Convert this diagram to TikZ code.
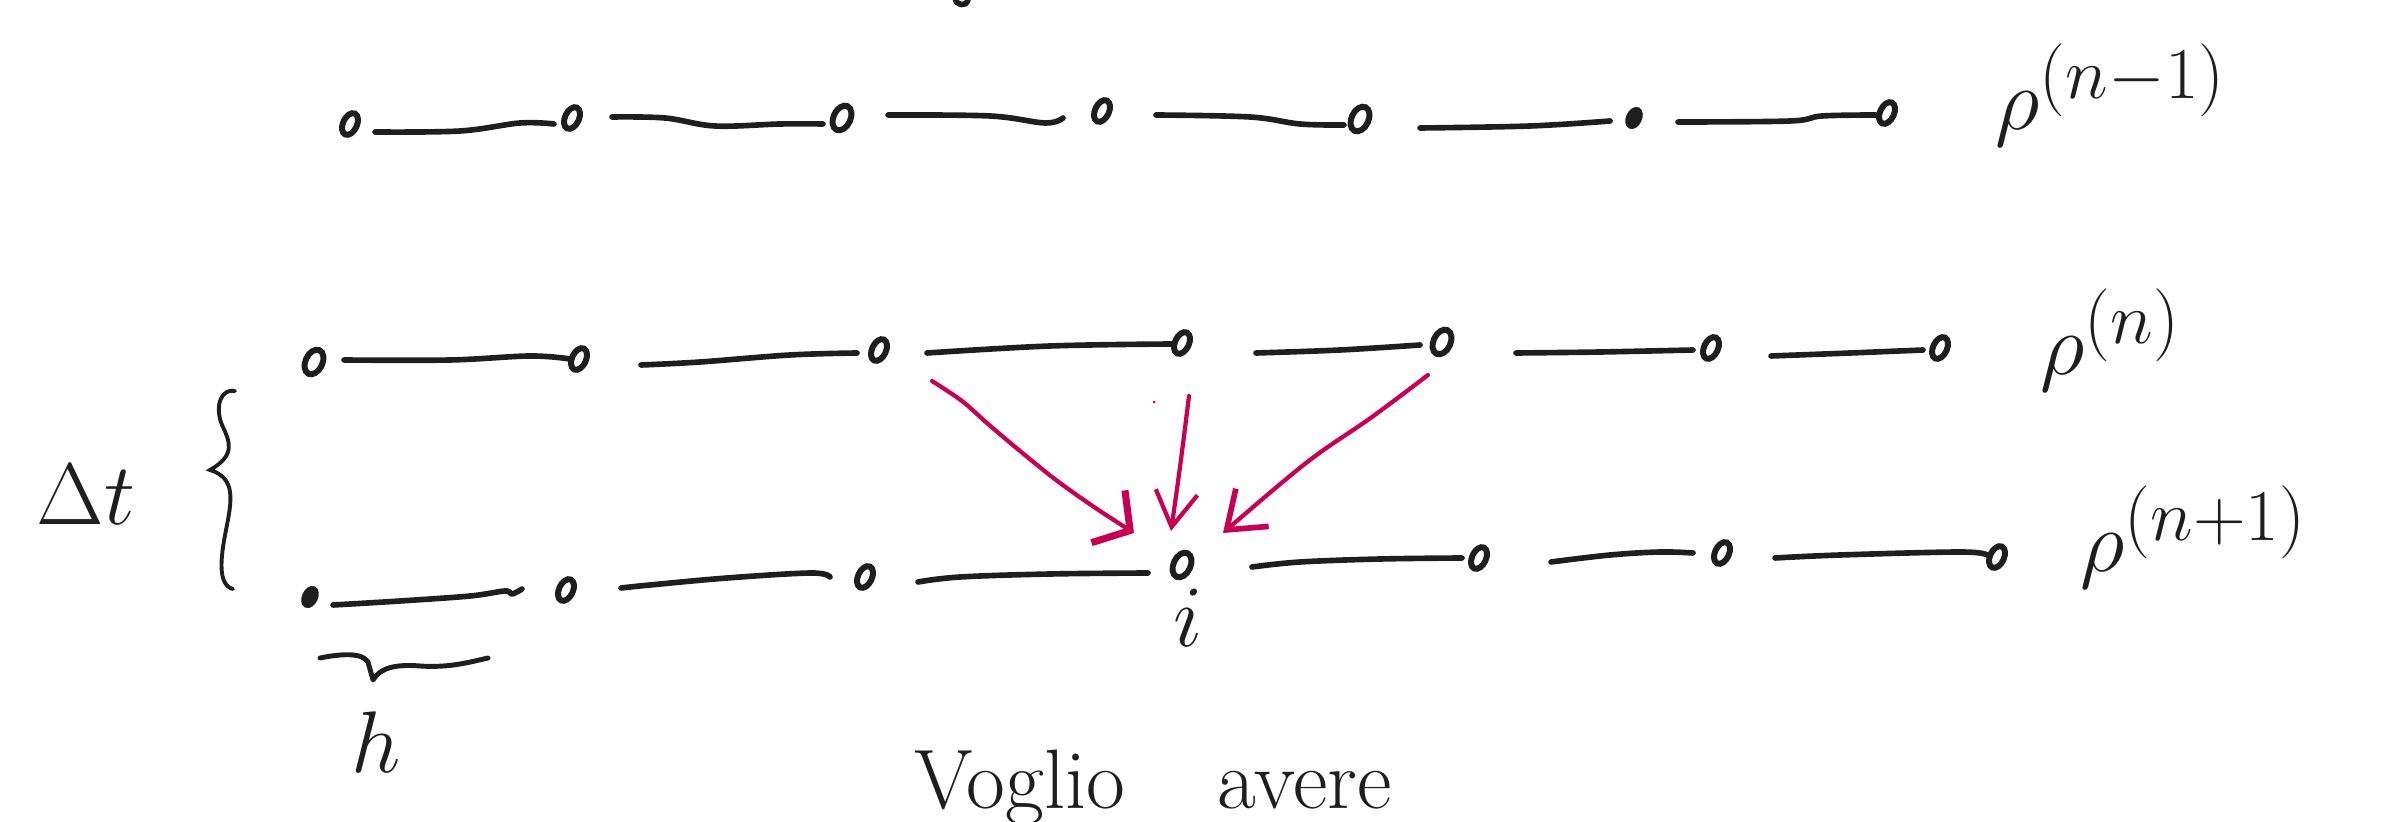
\documentclass[tikz,border=0pt]{standalone}
\usetikzlibrary{shapes.geometric,arrows.meta,calc}
\definecolor{inkred}{RGB}{199,0,83}
\definecolor{ink}{RGB}{30,30,30}
\begin{document}
\begin{tikzpicture}[x=0.01cm,y=-0.01cm,
  pt/.style={ellipse,draw=ink,line width=1.7pt,inner sep=0pt,minimum width=0.14cm,minimum height=0.23cm,rotate=-25},
  ptbig/.style={pt,minimum width=0.17cm,minimum height=0.26cm},
  dot/.style={pt,fill=ink,minimum width=0.10cm,minimum height=0.17cm},
  seg/.style={draw=ink,line width=1.6pt,line cap=round,line join=round},
  arr/.style={draw=inkred,line width=1.2pt,line cap=round,line join=round},
  lbl/.style={inner sep=0pt,anchor=base west,text=ink,font=\fontsize{28}{30}\selectfont},
  hand/.style={inner sep=0pt,anchor=base,text=ink}
]
\useasboundingbox (0,0) rectangle (2391,822);

% row n-1
\node[pt] (a1) at (350,124) {};
\node[pt] (a2) at (572,118) {};
\node[ptbig] (a3) at (842,118) {};
\node[pt] (a4) at (1102,111) {};
\node[ptbig] (a5) at (1360,119) {};
\node[dot] (a6) at (1634,118) {};
\node[pt] (a7) at (1887,113) {};
% row n
\node[ptbig] (b1) at (314,362) {};
\node[pt] (b2) at (579,359) {};
\node[pt] (b3) at (879,350) {};
\node[pt] (b4) at (1182,343) {};
\node[ptbig] (b5) at (1442,342) {};
\node[pt] (b6) at (1711,348) {};
\node[pt] (b7) at (1940,348) {};
% row n+1
\node[dot] (c1) at (310,597) {};
\node[pt] (c2) at (566,590) {};
\node[pt] (c3) at (865,577) {};
\node[ptbig] (c4) at (1182,565) {};
\node[pt] (c5) at (1479,558) {};
\node[pt] (c6) at (1722,553) {};
\node[pt] (c7) at (1997,557) {};

% segments row n-1
\draw[seg] plot[smooth,tension=0.6] coordinates {($(a1)+(25,8)$) (460,131) (520,123) ($(a2)+(-18,6)$)};
\draw[seg] plot[smooth,tension=0.6] coordinates {($(a2)+(40,-1)$) (665,118) (715,126) (780,124) ($(a3)+(-19,6)$)};
\draw[seg] plot[smooth,tension=0.6] coordinates {($(a3)+(46,-3)$) (990,116) (1045,123) ($(a4)+(-39,7)$)};
\draw[seg] plot[smooth,tension=0.6] coordinates {($(a4)+(54,4)$) (1250,117) (1300,124) ($(a5)+(-16,6)$)};
\draw[seg] plot[smooth,tension=0.6] coordinates {($(a5)+(60,9)$) (1530,126) ($(a6)+(-24,3)$)};
\draw[seg] plot[smooth,tension=0.6] coordinates {($(a6)+(44,4)$) (1790,121) (1822,116) ($(a7)+(-11,2)$)};
% segments row n
\draw[seg] plot[smooth,tension=0.6] coordinates {($(b1)+(30,-2)$) (450,360) (530,356) ($(b2)+(-9,0)$)};
\draw[seg] plot[smooth,tension=0.6] coordinates {($(b2)+(62,6)$) (700,362) (790,355) ($(b3)+(-22,3)$)};
\draw[seg] plot[smooth,tension=0.6] coordinates {($(b3)+(48,3)$) (1050,346) ($(b4)+(-10,1)$)};
\draw[seg] plot[smooth,tension=0.6] coordinates {($(b4)+(74,10)$) (1340,350) ($(b5)+(-22,3)$)};
\draw[seg] plot[smooth,tension=0.6] coordinates {($(b5)+(74,11)$) (1600,352) ($(b6)+(-18,2)$)};
\draw[seg] plot[smooth,tension=0.6] coordinates {($(b6)+(60,8)$) (1850,353) ($(b7)+(-17,2)$)};
% segments row n+1
\draw[seg] plot[smooth,tension=0.6] coordinates {($(c1)+(23,8)$) (400,601) (470,596) (505,591) (512,594) ($(c2)+(-44,-1)$)};
\draw[seg] plot[smooth,tension=0.6] coordinates {($(c2)+(55,-2)$) (650,585) (727,578) (811,573) ($(c3)+(-35,0)$)};
\draw[seg] plot[smooth,tension=0.6] coordinates {($(c3)+(53,5)$) (960,577) (1050,574) ($(c4)+(-34,8)$)};
\draw[seg] plot[smooth,tension=0.6] coordinates {($(c4)+(70,2)$) (1300,562) (1380,559) ($(c5)+(-17,0)$)};
\draw[seg] plot[smooth,tension=0.6] coordinates {($(c5)+(72,4)$) (1610,555) (1660,552) ($(c6)+(-29,0)$)};
\draw[seg] plot[smooth,tension=0.6] coordinates {($(c6)+(53,5)$) (1840,555) (1960,552) ($(c7)+(-10,-2)$)};

% red arrows
\draw[arr,-{Straight Barb[length=0.26cm,width=0.62cm,line width=2pt]}] plot[smooth,tension=0.5] coordinates {($(b3)+(53,31)$) (962,401) (988,424) (1020,451) (1056,480) (1094,507) ($(c4)+(-48,-32)$)};
\draw[arr,-{Straight Barb[length=0.35cm,width=0.42cm]}] plot[smooth,tension=0.6] coordinates {($(b4)+(7,53)$) (1180,467) ($(c4)+(-11,-34)$)};
\draw[arr,-{Straight Barb[length=0.34cm,width=0.5cm,line width=1.6pt]}] plot[smooth,tension=0.6] coordinates {($(b5)+(-14,33)$) (1372,417) (1306,463) ($(c4)+(41,-32)$)};
\fill[inkred] (1154,402) circle[radius=1.5];

% labels
\node[lbl] (rho1) at (1995,130) {$\rho^{(n-1)}$};
\node[lbl] (rho2) at (2040,375) {$\rho^{(n)}$};
\node[lbl] (rho3) at (2080,572) {$\rho^{(n+1)}$};

% Delta t brace
\draw[draw=ink,line width=1.1pt,line cap=round] (235,391) .. controls (222,388) and (214,405) .. (222,425) .. controls (230,442) and (236,455) .. (210,470) .. controls (236,478) and (232,500) .. (226,530) .. controls (220,560) and (218,585) .. (233,589);
\node[hand,font=\fontsize{25}{28}\selectfont] (dt) at (86,525) {$\Delta t$};

% h brace
\draw[draw=ink,line width=1.4pt,line cap=round,line join=round] (320,658) .. controls (340,654) and (362,652) .. (368,662) -- (373,680) .. controls (380,668) and (395,664) .. (420,666) .. controls (450,668) and (470,662) .. (488,658);
\node[hand,font=\fontsize{25}{28}\selectfont] (h) at (376,772) {$h$};

% index i
\node[hand,font=\fontsize{24}{26}\selectfont] (i) at (1188,647) {$i$};

% bottom text
\node[inner sep=0pt,anchor=base west,text=ink,font=\fontsize{24}{26}\selectfont] (txt) at (914,808) {Voglio\hspace{1.1em}avere};

% fragment at top edge
\draw[seg] (955,-2) .. controls (956,6) and (966,7) .. (968,0);
\end{tikzpicture}
\end{document}
